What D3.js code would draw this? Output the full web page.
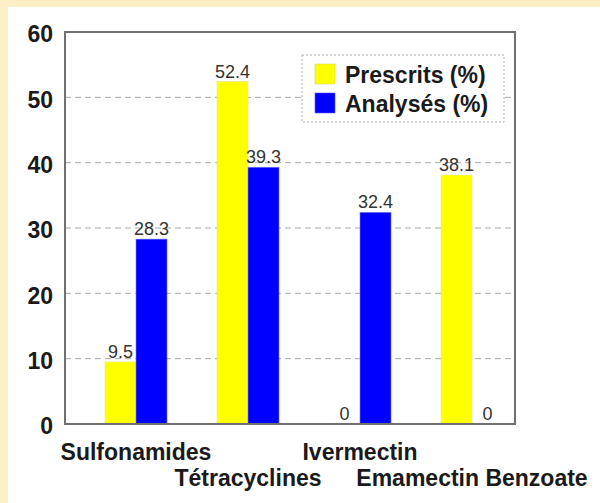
<!DOCTYPE html>
<html>
<head>
<meta charset="utf-8">
<script src="https://cdn.jsdelivr.net/npm/d3@7"></script>
<style>
  body { margin: 0; background: #fdf0c6; }
  svg { display: block; }
  text { font-family: "Liberation Sans", Arial, Helvetica, sans-serif; fill: #1a1a1a; }
</style>
</head>
<body>
<div id="chart-area"></div>
<script>
// categories and series (percent)
let categories = ["Sulfonamides", "Tétracyclines", "Ivermectin", "Emamectin Benzoate"];
let prescrits = [9.5, 52.4, 0, 38.1];
let analyses = [28.3, 39.3, 32.4, 0];
let valueLabels1 = ["9.5", "52.4", "0", "38.1"];
let valueLabels2 = ["28.3", "39.3", "32.4", "0"];
let yTicks = [0, 10, 20, 30, 40, 50, 60];
let seriesNames = ["Prescrits (%)", "Analysés (%)"];
let seriesColors = ["#ffff00", "#0000ff"];

// set sizes
let width = 600, height = 503;
let plot = {left: 65, right: 515, top: 32, bottom: 424};

let svg = d3.select("#chart-area").append("svg")
    .attr("width", width)
    .attr("height", height);

// white panel on the cream background
svg.append("rect")
    .attr("x", 8).attr("y", 7)
    .attr("width", width - 8).attr("height", height - 7)
    .attr("fill", "white");

// scales
let x = d3.scalePoint()
    .domain(categories)
    .range([136, 472]);

let y = d3.scaleLinear()
    .domain([0, 60])
    .range([plot.bottom, plot.top]);

let barWidth = 31;

// dashed grid lines
svg.selectAll(".grid")
    .data(yTicks.filter(d => d > 0 && d < 60))
    .enter().append("line")
    .attr("class", "grid")
    .attr("x1", plot.left).attr("x2", plot.right)
    .attr("y1", d => y(d)).attr("y2", d => y(d))
    .attr("stroke", "#a8a8a8")
    .attr("stroke-width", 1)
    .attr("stroke-dasharray", "6,4");

// y tick labels
svg.selectAll(".ylab")
    .data(yTicks)
    .enter().append("text")
    .attr("class", "ylab")
    .attr("x", 53)
    .attr("y", d => y(d))
    .attr("dy", "0.45em")
    .attr("text-anchor", "end")
    .style("font-size", "23px")
    .style("font-weight", "bold")
    .text(d => d);

// bars for both series
let series = [prescrits, analyses];
let labels = [valueLabels1, valueLabels2];

series.forEach((values, s) => {
    let offset = s === 0 ? -barWidth : 0;

    svg.selectAll(".bar" + s)
        .data(values)
        .enter().append("rect")
        .attr("class", "bar" + s)
        .attr("x", (d, i) => x(categories[i]) + offset)
        .attr("y", d => y(d))
        .attr("width", barWidth)
        .attr("height", d => y(0) - y(d))
        .attr("fill", seriesColors[s])
        .attr("stroke", s === 0 ? "#e6e67a" : "#7a7aff")
        .attr("stroke-width", 0.6);

    svg.selectAll(".val" + s)
        .data(values)
        .enter().append("text")
        .attr("class", "val" + s)
        .attr("x", (d, i) => x(categories[i]) + offset + barWidth / 2)
        .attr("y", d => y(d) - 4)
        .attr("text-anchor", "middle")
        .style("font-size", "18px")
        .style("fill", "#333")
        .text((d, i) => labels[s][i]);
});

// plot frame
svg.append("rect")
    .attr("x", plot.left).attr("y", plot.top)
    .attr("width", plot.right - plot.left)
    .attr("height", plot.bottom - plot.top)
    .attr("fill", "none")
    .attr("stroke", "#707070")
    .attr("stroke-width", 2);

// category labels, staggered on two rows
svg.selectAll(".xlab")
    .data(categories)
    .enter().append("text")
    .attr("class", "xlab")
    .attr("x", d => x(d))
    .attr("y", (d, i) => i % 2 === 0 ? 460 : 486)
    .attr("text-anchor", "middle")
    .style("font-size", "23px")
    .style("font-weight", "bold")
    .text(d => d);

// legend
let legend = svg.append("g");

legend.append("rect")
    .attr("x", 302).attr("y", 55)
    .attr("width", 202).attr("height", 67)
    .attr("fill", "white")
    .attr("stroke", "#aaa")
    .attr("stroke-width", 1)
    .attr("stroke-dasharray", "2,2");

legend.selectAll(".swatch")
    .data(seriesNames)
    .enter().append("rect")
    .attr("class", "swatch")
    .attr("x", 315)
    .attr("y", (d, i) => 64 + i * 29)
    .attr("width", 20).attr("height", 20)
    .attr("fill", (d, i) => seriesColors[i])
    .attr("stroke", (d, i) => i === 0 ? "#d6d66a" : "#5a5aff")
    .attr("stroke-width", 0.6);

legend.selectAll(".legtext")
    .data(seriesNames)
    .enter().append("text")
    .attr("class", "legtext")
    .attr("x", 345)
    .attr("y", (d, i) => 83 + i * 29)
    .style("font-size", "23px")
    .style("font-weight", "bold")
    .text(d => d);
</script>
</body>
</html>
